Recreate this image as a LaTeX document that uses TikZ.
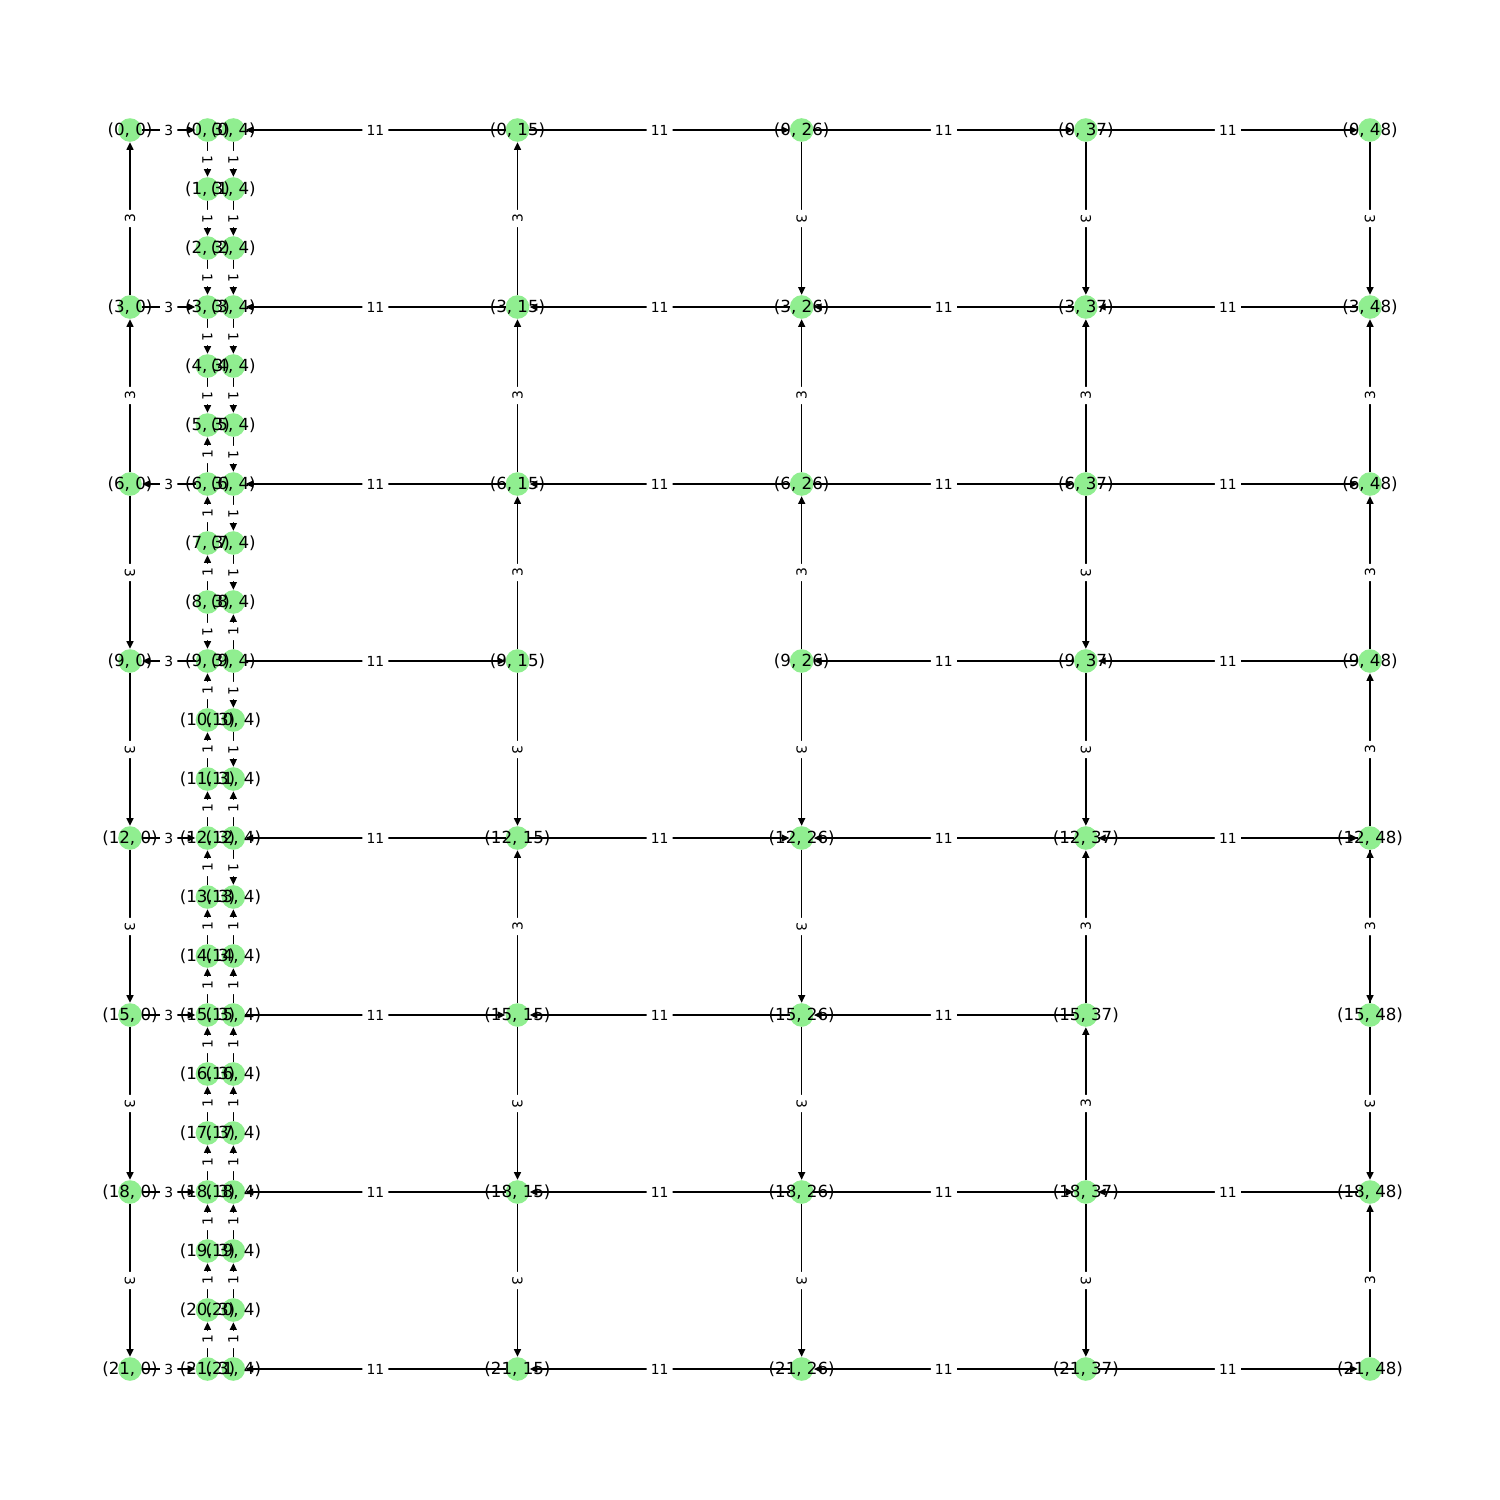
\documentclass[tikz,border=0pt]{standalone}
\usepackage{fontspec}
\setmainfont{DejaVu Sans}
\usetikzlibrary{arrows.meta}
\definecolor{lgreen}{HTML}{90EE90}
\def\EL{%
3-0/0-0/3/90, 6-0/3-0/3/90, 6-0/9-0/3/-90, 9-0/12-0/3/-90, 12-0/15-0/3/-90, 15-0/18-0/3/-90, 18-0/21-0/3/-90,%
0-0/0-3/3/0, 3-0/3-3/3/0, 6-3/6-0/3/0, 9-3/9-0/3/0, 12-0/12-3/3/0, 15-0/15-3/3/0, 18-0/18-3/3/0, 21-0/21-3/3/0,%
0-3/1-3/1/-90, 1-3/2-3/1/-90, 2-3/3-3/1/-90, 3-3/4-3/1/-90, 4-3/5-3/1/-90, 6-3/5-3/1/90, 7-3/6-3/1/90, 8-3/7-3/1/90, 8-3/9-3/1/-90, 10-3/9-3/1/90, 11-3/10-3/1/90, 12-3/11-3/1/90, 13-3/12-3/1/90, 14-3/13-3/1/90, 15-3/14-3/1/90, 16-3/15-3/1/90, 17-3/16-3/1/90, 18-3/17-3/1/90, 19-3/18-3/1/90, 20-3/19-3/1/90, 21-3/20-3/1/90,%
0-4/1-4/1/-90, 1-4/2-4/1/-90, 2-4/3-4/1/-90, 3-4/4-4/1/-90, 4-4/5-4/1/-90, 5-4/6-4/1/-90, 6-4/7-4/1/-90, 7-4/8-4/1/-90, 9-4/8-4/1/90, 9-4/10-4/1/-90, 10-4/11-4/1/-90, 12-4/11-4/1/90, 12-4/13-4/1/-90, 14-4/13-4/1/90, 15-4/14-4/1/90, 16-4/15-4/1/90, 17-4/16-4/1/90, 18-4/17-4/1/90, 19-4/18-4/1/90, 20-4/19-4/1/90, 21-4/20-4/1/90,%
0-15/0-4/11/0, 3-15/3-4/11/0, 6-15/6-4/11/0, 9-4/9-15/11/0, 12-15/12-4/11/0, 15-4/15-15/11/0, 18-15/18-4/11/0, 21-15/21-4/11/0,%
0-15/0-26/11/0, 0-26/0-37/11/0, 0-37/0-48/11/0,%
3-26/3-15/11/0, 3-37/3-26/11/0, 3-48/3-37/11/0,%
6-26/6-15/11/0, 6-26/6-37/11/0, 6-37/6-48/11/0,%
9-37/9-26/11/0, 9-48/9-37/11/0,%
12-15/12-26/11/0, 12-37/12-26/11/0, 12-37/12-48/11/0, 12-48/12-37/11/0,%
15-26/15-15/11/0, 15-37/15-26/11/0,%
18-26/18-15/11/0, 18-26/18-37/11/0, 18-48/18-37/11/0,%
21-26/21-15/11/0, 21-37/21-26/11/0, 21-37/21-48/11/0,%
3-15/0-15/3/90, 6-15/3-15/3/90, 9-15/6-15/3/90, 9-15/12-15/3/-90, 15-15/12-15/3/90, 15-15/18-15/3/-90, 18-15/21-15/3/-90,%
0-26/3-26/3/-90, 6-26/3-26/3/90, 9-26/6-26/3/90, 9-26/12-26/3/-90, 12-26/15-26/3/-90, 15-26/18-26/3/-90, 18-26/21-26/3/-90,%
0-37/3-37/3/-90, 6-37/3-37/3/90, 6-37/9-37/3/-90, 9-37/12-37/3/-90, 15-37/12-37/3/90, 18-37/15-37/3/90, 18-37/21-37/3/-90,%
0-48/3-48/3/-90, 6-48/3-48/3/90, 9-48/6-48/3/90, 12-48/9-48/3/90, 12-48/15-48/3/-90, 15-48/12-48/3/90, 15-48/18-48/3/-90, 21-48/18-48/3/90}
\begin{document}
\begin{tikzpicture}[x=1pt,y=1pt,
 vtx/.style={circle, fill=lgreen, minimum size=17pt, inner sep=0pt, outer sep=0pt},
 nlab/.style={inner sep=0pt, font=\fontsize{12}{14}\selectfont},
 edge/.style={line width=1pt, -{Triangle[length=5.5pt,width=5pt]}, shorten >=0.3pt},
 elab/.style={fill=white, rounded corners=2.5pt, inner sep=3pt, font=\fontsize{10}{12}\selectfont}]
\useasboundingbox (0,0) rectangle (1080,-1080);
% nodes
\foreach \cc in {0,15,26,37,48} {\foreach \rr in {0,3,...,21} {
  \node[vtx] (n\rr-\cc) at ({93.6+18.6*\cc},{-93.6-42.48*\rr}) {};}}
\foreach \cc in {3,4} {\foreach \rr in {0,...,21} {
  \node[vtx] (n\rr-\cc) at ({93.6+18.6*\cc},{-93.6-42.48*\rr}) {};}}
% edges
\foreach \ea/\eb/\ew/\er in \EL {\draw[edge] (n\ea) -- (n\eb);}
% node labels
\foreach \cc in {0,15,26,37,48} {\foreach \rr in {0,3,...,21} {
  \node[nlab] (t\rr-\cc) at (n\rr-\cc) {(\rr, \cc)};}}
\foreach \cc in {3,4} {\foreach \rr in {0,...,21} {
  \node[nlab] (t\rr-\cc) at (n\rr-\cc) {(\rr, \cc)};}}
% edge labels
\foreach \ea/\eb/\ew/\er in \EL {\path (n\ea) -- (n\eb) node[elab, midway, rotate=\er] {\ew};}
\end{tikzpicture}
\end{document}
